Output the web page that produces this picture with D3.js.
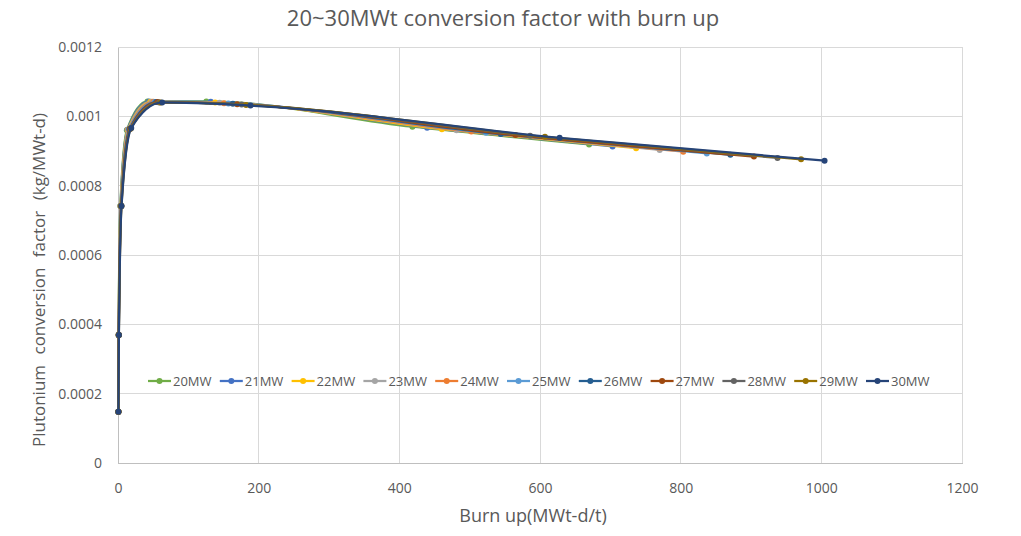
<!DOCTYPE html>
<html>
<head>
<meta charset="utf-8">
<script src="https://cdn.jsdelivr.net/npm/d3@7"></script>
<style>
  html, body { margin: 0; padding: 0; background: #fff; }
  svg { display: block; }
  text { font-family: "Open Sans", "Noto Sans", sans-serif; fill: #595959; }
</style>
</head>
<body>
<svg id="chart" width="1021" height="536"></svg>
<script>
// ---- data ----
const seriesNames = ["20MW","21MW","22MW","23MW","24MW","25MW","26MW","27MW","28MW","29MW","30MW"];
const seriesColors = ["#70AD47","#4472C4","#FFC000","#A5A5A5","#ED7D31","#5B9BD5","#255E91","#9E480E","#636363","#997300","#264478"];

const burnup20 = [0.4, 0.8, 3.3, 12.6, 41.9, 125.6, 418.6, 669.8];
const burnup21 = [0.4, 0.9, 3.5, 13.2, 44.0, 131.9, 439.5, 703.2];
const burnup22 = [0.5, 0.9, 3.7, 13.8, 46.0, 138.1, 460.5, 736.7];
const burnup23 = [0.5, 1.0, 3.9, 14.4, 48.1, 144.4, 481.4, 770.2];
const burnup24 = [0.5, 1.0, 4.0, 15.1, 50.2, 150.7, 502.3, 803.7];
const burnup25 = [0.5, 1.0, 4.2, 15.7, 52.3, 157.0, 523.3, 837.2];
const burnup26 = [0.5, 1.1, 4.4, 16.3, 54.4, 163.3, 544.2, 870.7];
const burnup27 = [0.6, 1.1, 4.5, 17.0, 56.5, 169.5, 565.1, 904.2];
const burnup28 = [0.6, 1.2, 4.7, 17.6, 58.6, 175.8, 586.0, 937.7];
const burnup29 = [0.6, 1.2, 4.9, 18.2, 60.7, 182.1, 607.0, 971.2];
const burnup30 = [0.6, 1.3, 5.0, 18.8, 62.8, 188.4, 627.9, 1004.6];

const factor20 = [0.000148, 0.000369, 0.000741, 0.000960, 0.001043, 0.001043, 0.000970, 0.000919];
const factor21 = [0.000148, 0.000369, 0.000741, 0.000961, 0.001043, 0.001042, 0.000967, 0.000913];
const factor22 = [0.000148, 0.000369, 0.000741, 0.000961, 0.001042, 0.001040, 0.000963, 0.000908];
const factor23 = [0.000148, 0.000369, 0.000741, 0.000962, 0.001042, 0.001039, 0.000960, 0.000903];
const factor24 = [0.000148, 0.000369, 0.000741, 0.000962, 0.001042, 0.001038, 0.000956, 0.000898];
const factor25 = [0.000148, 0.000369, 0.000741, 0.000963, 0.001041, 0.001037, 0.000953, 0.000893];
const factor26 = [0.000148, 0.000369, 0.000741, 0.000963, 0.001041, 0.001036, 0.000949, 0.000889];
const factor27 = [0.000148, 0.000369, 0.000741, 0.000964, 0.001041, 0.001035, 0.000946, 0.000884];
const factor28 = [0.000148, 0.000369, 0.000741, 0.000964, 0.001040, 0.001034, 0.000944, 0.000880];
const factor29 = [0.000148, 0.000369, 0.000741, 0.000965, 0.001040, 0.001033, 0.000941, 0.000876];
const factor30 = [0.000148, 0.000369, 0.000741, 0.000966, 0.001040, 0.001031, 0.000938, 0.000872];

const xTicks = [0, 200, 400, 600, 800, 1000, 1200];
const yTicks = [0, 0.0002, 0.0004, 0.0006, 0.0008, 0.001, 0.0012];
const yTickLabels = ["0", "0.0002", "0.0004", "0.0006", "0.0008", "0.001", "0.0012"];

const titleText = "20~30MWt conversion factor with burn up";
const xTitle = "Burn up(MWt-d/t)";
const yTitle = "Plutonium conversion factor (kg/MWt-d)";

const burnups = [burnup20, burnup21, burnup22, burnup23, burnup24, burnup25, burnup26, burnup27, burnup28, burnup29, burnup30];
const factors = [factor20, factor21, factor22, factor23, factor24, factor25, factor26, factor27, factor28, factor29, factor30];

// ---- layout ----
const svg = d3.select("#chart");
const plot = { left: 118, right: 962, top: 47, bottom: 463 };

const x = d3.scaleLinear().domain([0, 1200]).range([plot.left, plot.right]);
const y = d3.scaleLinear().domain([0, 0.0012]).range([plot.bottom, plot.top]);

// gridlines
const grid = svg.append("g");
grid.selectAll("line.v").data(xTicks.slice(1)).enter().append("line")
  .attr("x1", d => x(d)).attr("x2", d => x(d))
  .attr("y1", plot.top).attr("y2", plot.bottom)
  .attr("stroke", "#D9D9D9").attr("stroke-width", 1).attr("shape-rendering", "crispEdges");
grid.selectAll("line.h").data(yTicks.slice(1)).enter().append("line")
  .attr("x1", plot.left).attr("x2", plot.right)
  .attr("y1", d => y(d)).attr("y2", d => y(d))
  .attr("stroke", "#D9D9D9").attr("stroke-width", 1).attr("shape-rendering", "crispEdges");

// axes
const xAxis = svg.append("g").attr("transform", `translate(0,${plot.bottom})`)
  .call(d3.axisBottom(x).tickValues(xTicks).tickSize(0).tickPadding(20).tickFormat(d3.format("d")));
xAxis.select(".domain").attr("stroke", "#BFBFBF").attr("shape-rendering", "crispEdges");
xAxis.selectAll("text").style("font-size", "14px").attr("fill", "#595959");

const yAxis = svg.append("g").attr("transform", `translate(${plot.left},0)`)
  .call(d3.axisLeft(y).tickValues(yTicks).tickSize(0).tickPadding(16).tickFormat((d, i) => yTickLabels[i]));
yAxis.select(".domain").attr("stroke", "#BFBFBF").attr("shape-rendering", "crispEdges");
yAxis.selectAll("text").style("font-size", "14px").attr("fill", "#595959");

// series
const line = d3.line().x(d => x(d[0])).y(d => y(d[1])).curve(d3.curveMonotoneX);
const sg = svg.append("g");
seriesNames.forEach((name, i) => {
  const pts = burnups[i].map((b, j) => [b, factors[i][j]]);
  sg.append("path").datum(pts)
    .attr("d", line).attr("fill", "none")
    .attr("stroke", seriesColors[i]).attr("stroke-width", 2.25)
    .attr("stroke-linejoin", "round").attr("stroke-linecap", "round");
  sg.selectAll(null).data(pts).enter().append("circle")
    .attr("cx", d => x(d[0])).attr("cy", d => y(d[1])).attr("r", 3)
    .attr("fill", seriesColors[i]);
});

// title
svg.append("text").attr("x", 503).attr("y", 26).attr("text-anchor", "middle")
  .style("font-size", "22px").text(titleText);

// axis titles
svg.append("text").attr("x", 533).attr("y", 522).attr("text-anchor", "middle")
  .style("font-size", "18px").text(xTitle);
svg.append("text").attr("transform", "translate(45,280) rotate(-90)").attr("text-anchor", "middle")
  .style("font-size", "17px").style("word-spacing", "6px").text(yTitle);

// legend
const legend = svg.append("g").attr("transform", "translate(148,381)");
seriesNames.forEach((name, i) => {
  const g = legend.append("g").attr("transform", `translate(${i * 71.8},0)`);
  g.append("line").attr("x1", 0).attr("x2", 23).attr("y1", 0).attr("y2", 0)
    .attr("stroke", seriesColors[i]).attr("stroke-width", 2.25);
  g.append("circle").attr("cx", 11.5).attr("cy", 0).attr("r", 3).attr("fill", seriesColors[i]);
  g.append("text").attr("x", 25).attr("y", 0).attr("dy", "0.35em")
    .style("font-size", "13px").text(name);
});
</script>
</body>
</html>
